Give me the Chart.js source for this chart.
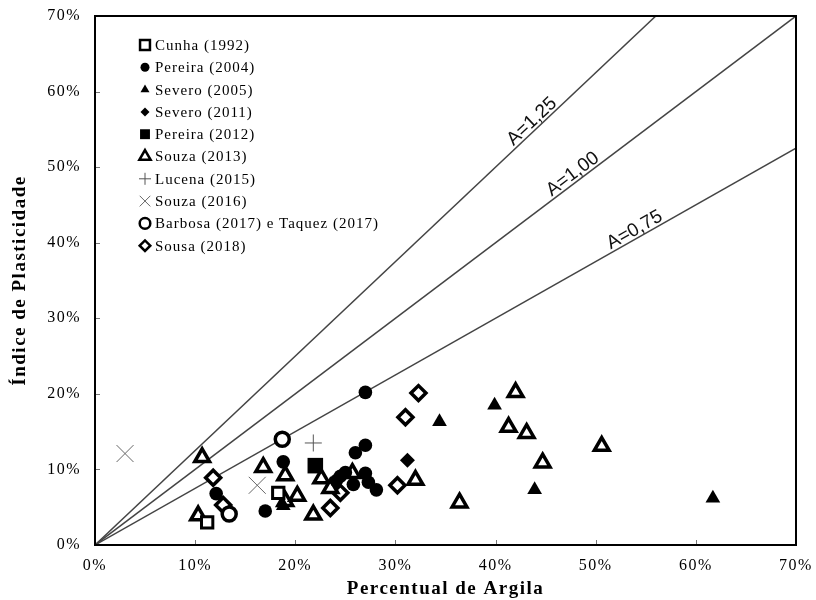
<!DOCTYPE html>
<html>
<head>
<meta charset="utf-8">
<script src="https://cdn.jsdelivr.net/npm/chart.js@4.4.1/dist/chart.umd.min.js"></script>
<style>
  body { margin: 0; background: #fff; }
  #wrap { width: 816px; height: 600px; }
</style>
</head>
<body>
<div id="wrap"><canvas id="chart" width="816" height="600"></canvas></div>
<script>
// Data: x = clay %, y = plasticity index %
const cunhaX = [11.2, 18.3];
const cunhaY = [3.0, 6.9];

const pereira04X = [27.0, 27.0, 26.0, 18.8, 17.0, 12.1, 24.5, 24.1, 25.0, 25.8, 27.0, 27.3, 28.1];
const pereira04Y = [20.2, 13.2, 12.2, 11.0, 4.5, 6.8, 9.1, 8.5, 9.6, 8.0, 9.5, 8.3, 7.3];

const severo05X = [34.4, 39.9, 43.9, 61.7, 18.8];
const severo05Y = [16.3, 18.5, 7.3, 6.2, 5.2];

const severo11X = [31.2];
const severo11Y = [11.2];

const pereira12X = [22.0];
const pereira12Y = [10.5];

const souza13X = [10.7, 10.3, 16.8, 19.0, 19.0, 20.2, 21.8, 22.6, 23.5, 25.7, 32.0, 36.4, 42.0, 41.3, 43.1, 44.7, 50.6];
const souza13Y = [11.6, 3.9, 10.3, 9.2, 5.8, 6.5, 4.0, 8.8, 7.5, 9.5, 8.6, 5.6, 20.2, 15.6, 14.8, 10.9, 13.1];

const lucenaX = [21.8];
const lucenaY = [13.5];

const souza16X = [3.0, 16.2];
const souza16Y = [12.1, 7.9];

const barbosaX = [18.7, 13.4];
const barbosaY = [14.0, 4.1];

const sousaX = [32.3, 31.0, 30.2, 23.5, 24.5, 11.8, 12.8];
const sousaY = [20.1, 16.9, 7.9, 4.9, 6.9, 8.9, 5.3];

const seriesNames = ['Cunha (1992)', 'Pereira (2004)', 'Severo (2005)', 'Severo (2011)', 'Pereira (2012)',
  'Souza (2013)', 'Lucena (2015)', 'Souza (2016)', 'Barbosa (2017) e Taquez (2017)', 'Sousa (2018)'];
const seriesX = [cunhaX, pereira04X, severo05X, severo11X, pereira12X, souza13X, lucenaX, souza16X, barbosaX, sousaX];
const seriesY = [cunhaY, pereira04Y, severo05Y, severo11Y, pereira12Y, souza13Y, lucenaY, souza16Y, barbosaY, sousaY];

// Activity lines (IP = A * clay)
const activities = [0.75, 1.00, 1.25];
const activityLabels = ['A=0,75', 'A=1,00', 'A=1,25'];
const activityLabelX = [54.3, 48.2, 44.2];

const axisMax = 70;
const axisStep = 10;

// marker look for each series (plot and legend)
const styles = [
  { style: 'rect', r: 8, bw: 3, bg: '#fff', fg: '#000', lr: 7, lbw: 2.5 },
  { style: 'circle', r: 6.8, bw: 0, bg: '#000', fg: '#000', lr: 4.5, lbw: 0 },
  { style: 'triangle', r: 8.5, bw: 0, bg: '#000', fg: '#000', lr: 5.2, lbw: 0 },
  { style: 'rectRot', r: 7.5, bw: 0, bg: '#000', fg: '#000', lr: 4.5, lbw: 0 },
  { style: 'rect', r: 11, bw: 0, bg: '#000', fg: '#000', lr: 7, lbw: 0 },
  { style: 'triangle', r: 8.5, bw: 3.5, bg: '#fff', fg: '#000', lr: 6.5, lbw: 2.5 },
  { style: 'cross', r: 8.5, bw: 1, bg: '#555', fg: '#555', lr: 6, lbw: 1 },
  { style: 'crossRot', r: 12, bw: 1, bg: '#666', fg: '#666', lr: 7.5, lbw: 1 },
  { style: 'circle', r: 7, bw: 3.5, bg: '#fff', fg: '#000', lr: 5.3, lbw: 2.5 },
  { style: 'rectRot', r: 7.5, bw: 3.5, bg: '#fff', fg: '#000', lr: 5.3, lbw: 2.5 }
];

function toPoints(xs, ys) {
  return xs.map((x, i) => ({ x: x, y: ys[i] }));
}

const datasets = seriesNames.map((name, i) => ({
  label: name,
  data: toPoints(seriesX[i], seriesY[i]),
  pointStyle: styles[i].style,
  pointRadius: styles[i].r,
  pointBorderWidth: styles[i].bw,
  pointBackgroundColor: styles[i].bg,
  pointBorderColor: styles[i].fg,
  order: 1
}));

activities.forEach((a, i) => {
  const end = Math.min(axisMax, axisMax / a);
  datasets.push({
    label: activityLabels[i],
    data: [{ x: 0, y: 0 }, { x: end, y: end * a }],
    showLine: true,
    pointRadius: 0,
    borderColor: '#444',
    borderWidth: 1.5,
    order: 5
  });
});

const serif = '"Liberation Serif", "Times New Roman", serif';

const framePlugin = {
  id: 'frame',
  beforeLayout(chart) { chart.ctx.letterSpacing = '1.5px'; },
  beforeDraw(chart) { chart.ctx.letterSpacing = '1.5px'; },
  afterDraw(chart) {
    const ctx = chart.ctx;
    const a = chart.chartArea;
    const xs = chart.scales.x, ys = chart.scales.y;
    ctx.save();

    // inward tick marks
    ctx.strokeStyle = '#777';
    ctx.lineWidth = 1;
    xs.ticks.forEach((t, i) => {
      const px = Math.round(xs.getPixelForTick(i)) + 0.5;
      ctx.beginPath(); ctx.moveTo(px, a.bottom); ctx.lineTo(px, a.bottom - 5); ctx.stroke();
    });
    ys.ticks.forEach((t, i) => {
      const py = Math.round(ys.getPixelForTick(i)) + 0.5;
      ctx.beginPath(); ctx.moveTo(a.left, py); ctx.lineTo(a.left + 5, py); ctx.stroke();
    });

    // frame
    ctx.strokeStyle = '#000';
    ctx.lineWidth = 2;
    ctx.strokeRect(a.left, a.top, a.right - a.left, a.bottom - a.top);

    // activity line labels
    ctx.letterSpacing = '0px';
    ctx.fillStyle = '#111';
    ctx.font = '19px "Liberation Sans", Arial, sans-serif';
    ctx.textAlign = 'center';
    ctx.textBaseline = 'alphabetic';
    activities.forEach((act, i) => {
      const xv = activityLabelX[i];
      const px = xs.getPixelForValue(xv), py = ys.getPixelForValue(act * xv);
      const ang = Math.atan2(py - ys.getPixelForValue(0), px - xs.getPixelForValue(0));
      ctx.save();
      ctx.translate(px, py);
      ctx.rotate(ang);
      ctx.fillText(activityLabels[i], 0, -3);
      ctx.restore();
    });

    // legend inside plot
    const drawPoint = Chart.helpers && Chart.helpers.drawPoint;
    ctx.letterSpacing = '1px';
    ctx.font = '15px ' + serif;
    ctx.textAlign = 'left';
    ctx.textBaseline = 'middle';
    seriesNames.forEach((name, i) => {
      const st = styles[i];
      const lx = a.left + 50, ly = a.top + 29 + i * 22.3;
      ctx.fillStyle = st.bg;
      ctx.strokeStyle = st.fg;
      ctx.lineWidth = st.lbw;
      if (drawPoint) {
        drawPoint(ctx, { pointStyle: st.style, radius: st.lr, borderWidth: st.lbw, rotation: 0 }, lx, ly);
      }
      ctx.fillStyle = '#000';
      ctx.fillText(name, lx + 10, ly + 1);
    });
    ctx.restore();
  }
};

const tickFont = { family: serif, size: 16 };
const titleFont = { family: serif, size: 19, weight: 'bold' };

new Chart(document.getElementById('chart'), {
  type: 'scatter',
  data: { datasets: datasets },
  options: {
    responsive: false,
    animation: false,
    layout: { padding: { left: 0, top: 16, right: 20, bottom: 0 } },
    plugins: {
      legend: { display: false },
      tooltip: { enabled: false }
    },
    scales: {
      x: {
        type: 'linear',
        min: 0,
        max: axisMax,
        grid: { display: false, drawTicks: false },
        border: { display: false },
        ticks: {
          stepSize: axisStep,
          color: '#000',
          font: tickFont,
          padding: 11,
          callback: v => v + '%'
        },
        title: { display: true, text: 'Percentual de Argila', color: '#000', font: titleFont, padding: { top: 0, bottom: 0 } },
        afterFit: s => { s.height = 55; s.paddingLeft = 0; s.paddingRight = 0; }
      },
      y: {
        type: 'linear',
        min: 0,
        max: axisMax,
        grid: { display: false, drawTicks: false },
        border: { display: false },
        ticks: {
          stepSize: axisStep,
          color: '#000',
          font: tickFont,
          padding: 14,
          callback: v => v + '%'
        },
        title: { display: true, text: 'Índice de Plasticidade', color: '#000', font: titleFont, padding: { top: 9, bottom: 0 } },
        afterFit: s => { s.width = 95; s.paddingTop = 0; s.paddingBottom = 0; }
      }
    }
  },
  plugins: [framePlugin]
});
</script>
</body>
</html>
